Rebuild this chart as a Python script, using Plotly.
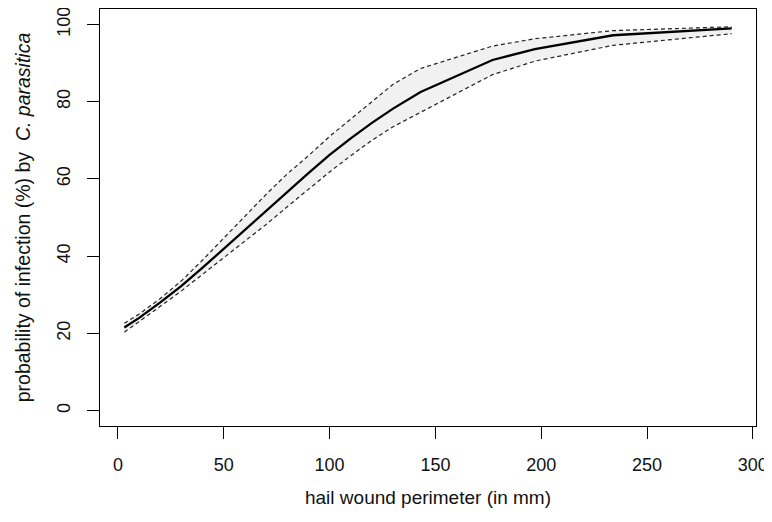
import plotly.graph_objects as go

# values
perimeter_mm = [3, 10, 20, 30, 40, 50, 60, 70, 80, 90, 100, 110, 120, 130, 143, 177, 197, 234, 290]
prob_fit = [21.5, 24.0, 28.0, 32.3, 37.0, 41.9, 46.8, 51.8, 56.8, 61.5, 66.2, 70.5, 74.5, 78.2, 82.5, 90.8, 93.6, 97.2, 99.0]
prob_upper = [22.6, 25.0, 29.0, 33.6, 39.0, 44.6, 50.3, 56.0, 61.3, 66.0, 71.0, 75.5, 80.0, 84.5, 88.6, 94.4, 96.3, 98.4, 99.4]
prob_lower = [20.3, 23.0, 27.0, 31.0, 35.3, 39.5, 43.8, 48.2, 52.8, 57.4, 61.8, 66.0, 70.0, 73.5, 77.2, 87.0, 90.5, 94.6, 97.6]

x_ticks = [0, 50, 100, 150, 200, 250, 300]
y_ticks = [0, 20, 40, 60, 80, 100]

FONT = "Liberation Sans, Arial, sans-serif"

fig = go.Figure()
# shaded confidence band
fig.add_trace(go.Scatter(x=perimeter_mm, y=prob_lower, mode="lines",
                         line=dict(width=0), showlegend=False, hoverinfo="skip"))
fig.add_trace(go.Scatter(x=perimeter_mm, y=prob_upper, mode="lines", fill="tonexty",
                         fillcolor="#f1f1f1", line=dict(width=0), showlegend=False, hoverinfo="skip"))
# dashed bounds
for ys in (prob_upper, prob_lower):
    fig.add_trace(go.Scatter(x=perimeter_mm, y=ys, mode="lines",
                             line=dict(color="#222222", width=1.2, dash="4px,3px"),
                             showlegend=False))
# fitted curve
fig.add_trace(go.Scatter(x=perimeter_mm, y=prob_fit, mode="lines",
                         line=dict(color="black", width=2.3), showlegend=False))

axis_common = dict(showgrid=False, zeroline=False, showline=True, linecolor="black",
                   linewidth=1, mirror=True, ticks="outside", ticklen=12, tickwidth=1,
                   tickcolor="black", automargin=False, ticklabeloverflow="allow",
                   tickfont=dict(family=FONT, size=18, color="#111111"))

fig.update_layout(
    width=764, height=514,
    margin=dict(l=92, r=16, t=1, b=96),
    paper_bgcolor="white", plot_bgcolor="white",
    font=dict(family=FONT, size=18, color="#111111"),
    xaxis=dict(range=[-8.5, 301.5], tickvals=x_ticks, ticktext=[str(v) for v in x_ticks],
               ticklabelstandoff=10,
               title=dict(text="hail wound perimeter (in mm)", standoff=17,
                          font=dict(family=FONT, size=19)),
               **axis_common),
    yaxis=dict(range=[-4, 104], tickvals=y_ticks, ticktext=[str(v) for v in y_ticks],
               tickangle=-90, ticklabelstandoff=10,
               title=dict(text="probability of infection (%) by&nbsp; <i>C. parasitica</i>",
                          standoff=17, font=dict(family=FONT, size=19.5)),
               **axis_common),
)

fig.write_html("out.html")
